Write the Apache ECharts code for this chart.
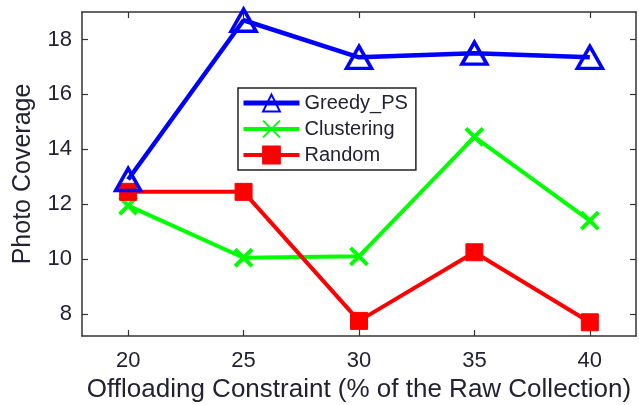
<!DOCTYPE html>
<html>
<head>
<meta charset="utf-8">
<script src="https://cdn.jsdelivr.net/npm/echarts@6/dist/echarts.min.js"></script>
<style>
  html, body { margin: 0; padding: 0; background: #fff; }
  #chart { width: 639px; height: 405px; }
</style>
</head>
<body>
<div id="chart"></div>
<script>
// Offloading constraint (% of the raw collection)
const constraints = [20, 25, 30, 35, 40];
const xTicks = [20, 25, 30, 35, 40];
const yTicks = [8, 10, 12, 14, 16, 18];

// Photo coverage per method
const greedyPS   = [12.9, 18.7, 17.35, 17.5, 17.35];
const clustering = [11.95, 10.05, 10.1, 14.45, 11.4];
const randomSel  = [12.45, 12.45, 7.75, 10.25, 7.7];

const FONT = "'Liberation Sans', Arial, sans-serif";
const TEXT = '#222233';
const AXIS = '#333333';
const BLUE = '#0000ff', GREEN = '#00ff00', RED = '#ff0000';

const pairs = arr => constraints.map((c, i) => [c, arr[i]]);
const crossPath = 'path://M0,0L10,10M10,0L0,10';

const chart = echarts.init(document.getElementById('chart'), null, { renderer: 'canvas' });

const tickStyle = values => ({
  show: true, inside: true, length: 6, customValues: values,
  lineStyle: { color: AXIS, width: 1.2 }
});
const axisLine = { show: true, onZero: false, lineStyle: { color: AXIS, width: 1.5 } };

chart.setOption({
  animation: false,
  backgroundColor: '#fff',
  grid: { left: 82, top: 12, right: 3, bottom: 69, containLabel: false, outerBoundsMode: 'none' },
  xAxis: [
    {
      type: 'value', min: 18, max: 42, position: 'bottom',
      name: 'Offloading Constraint (% of the Raw Collection)',
      nameLocation: 'middle', nameGap: 40,
      nameTextStyle: { fontFamily: FONT, fontSize: 26, color: TEXT },
      axisLine, splitLine: { show: false },
      axisLabel: { fontFamily: FONT, fontSize: 22, color: TEXT, margin: 14, customValues: xTicks },
      axisTick: tickStyle(xTicks)
    },
    {
      type: 'value', min: 18, max: 42, position: 'top',
      axisLine, splitLine: { show: false },
      axisLabel: { show: false, customValues: xTicks },
      axisTick: tickStyle(xTicks)
    }
  ],
  yAxis: [
    {
      type: 'value', min: 7.2, max: 19, position: 'left',
      name: 'Photo Coverage', nameLocation: 'middle', nameGap: 46,
      nameTextStyle: { fontFamily: FONT, fontSize: 25, color: TEXT },
      axisLine, splitLine: { show: false },
      axisLabel: { fontFamily: FONT, fontSize: 22, color: TEXT, margin: 10, customValues: yTicks },
      axisTick: tickStyle(yTicks)
    },
    {
      type: 'value', min: 7.2, max: 19, position: 'right',
      axisLine, splitLine: { show: false },
      axisLabel: { show: false, customValues: yTicks },
      axisTick: tickStyle(yTicks)
    }
  ],
  legend: {
    orient: 'vertical',
    left: 238, top: 88,
    width: 185,
    padding: [5, 8, 5, 3],
    itemWidth: 56, itemHeight: 21, itemGap: 6,
    borderColor: '#222', borderWidth: 1.5,
    backgroundColor: '#fff',
    textStyle: { fontFamily: FONT, fontSize: 20, color: TEXT },
    data: [
      { name: 'Greedy_PS', lineStyle: { width: 5, color: BLUE } },
      { name: 'Clustering', lineStyle: { width: 4, color: GREEN } },
      { name: 'Random', lineStyle: { width: 4, color: RED } }
    ]
  },
  series: [
    {
      name: 'Greedy_PS', type: 'line', data: pairs(greedyPS),
      color: BLUE,
      lineStyle: { color: BLUE, width: 4.5 },
      symbol: 'triangle', symbolSize: [25, 22],
      itemStyle: { color: 'rgba(255,255,255,0)', borderColor: BLUE, borderWidth: 3.5 },
      z: 3
    },
    {
      name: 'Clustering', type: 'line', data: pairs(clustering),
      color: GREEN,
      lineStyle: { color: GREEN, width: 4 },
      symbol: crossPath, symbolSize: 17,
      itemStyle: { color: 'rgba(0,0,0,0)', borderColor: GREEN, borderWidth: 4 },
      z: 2
    },
    {
      name: 'Random', type: 'line', data: pairs(randomSel),
      color: RED,
      lineStyle: { color: RED, width: 4 },
      symbol: 'rect', symbolSize: 17,
      itemStyle: { color: RED, borderColor: RED, borderWidth: 1 },
      z: 2
    }
  ]
});
</script>
</body>
</html>
